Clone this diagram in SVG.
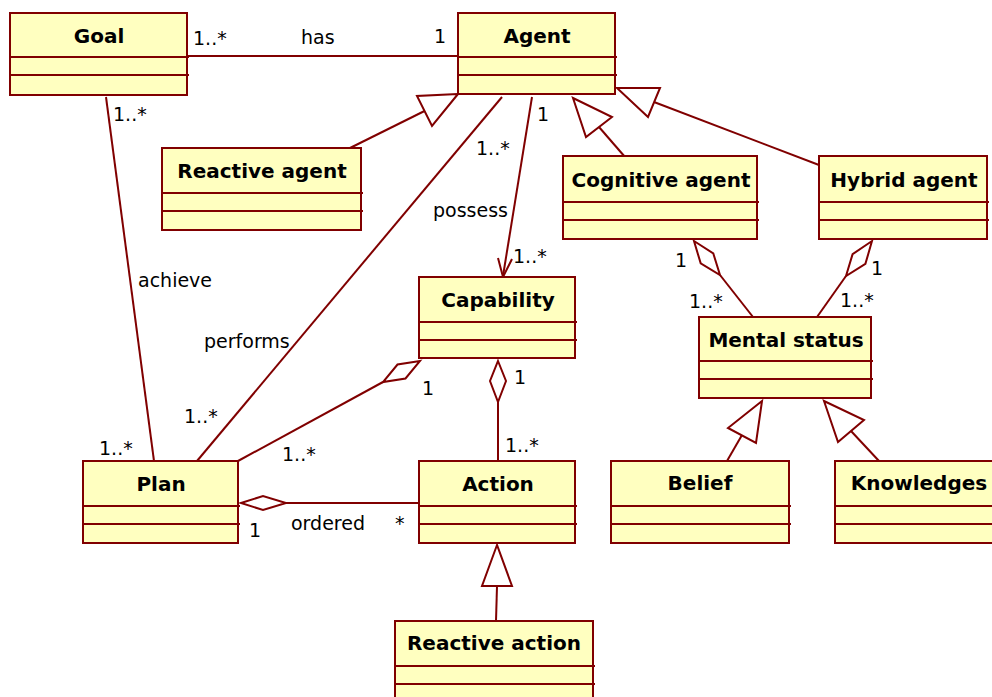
<svg xmlns="http://www.w3.org/2000/svg" width="992" height="697" viewBox="0 0 992 697">
<style>
.box{fill:#FFFFC0;stroke:#800000;stroke-width:2}
.sep{stroke:#800000;stroke-width:2;fill:none}
.ln{stroke:#800000;stroke-width:2;fill:none}
.tri{fill:#FFFFFF;stroke:#800000;stroke-width:2;stroke-linejoin:miter}
.hd{font-family:"DejaVu Sans","Liberation Sans",sans-serif;font-weight:bold;font-size:20px;text-anchor:middle;fill:#000}
.lb{font-family:"DejaVu Sans","Liberation Sans",sans-serif;font-size:19px;fill:#000}
</style>
<rect x="0" y="0" width="992" height="697" fill="#FFFFFF"/>

<g id="connectors">
  <!-- Goal - Agent : has -->
  <line class="ln" x1="188" y1="56" x2="458" y2="56"/>
  <!-- Goal - Plan : achieve -->
  <line class="ln" x1="106" y1="97" x2="154" y2="461"/>
  <!-- Agent - Plan : performs -->
  <line class="ln" x1="502" y1="97" x2="197" y2="461"/>
  <!-- Agent -> Capability : possess -->
  <line class="ln" x1="532" y1="97" x2="503" y2="276"/>
  <polyline class="ln" points="498,258 503,277 512,259"/>
  <!-- Reactive agent -> Agent -->
  <line class="ln" x1="350" y1="148" x2="424.5" y2="111"/>
  <polygon class="tri" points="458,94 417,96 432,126"/>
  <!-- Cognitive agent -> Agent -->
  <line class="ln" x1="625" y1="157" x2="599" y2="127"/>
  <polygon class="tri" points="573,98 612,117 586,137"/>
  <!-- Hybrid agent -> Agent -->
  <line class="ln" x1="819" y1="165" x2="654" y2="102"/>
  <polygon class="tri" points="617,88 660,88 648,117"/>
  <!-- Capability <>- Plan -->
  <line class="ln" x1="383" y1="382" x2="238" y2="461"/>
  <polygon class="tri" points="420,361 397.5,364.5 383,382 405.5,378.5"/>
  <!-- Capability <>- Action -->
  <line class="ln" x1="498" y1="402" x2="498" y2="461"/>
  <polygon class="tri" points="498,361 506,381 498,402 490,381"/>
  <!-- Plan <>- Action : ordered -->
  <line class="ln" x1="286" y1="503" x2="419" y2="503"/>
  <polygon class="tri" points="241,503 263,496 286,503 263,510"/>
  <!-- Cognitive agent <>- Mental status -->
  <line class="ln" x1="720" y1="275" x2="753" y2="317"/>
  <polygon class="tri" points="694,241 713.3,253.5 720,275 700.7,263.4"/>
  <!-- Hybrid agent <>- Mental status -->
  <line class="ln" x1="846" y1="276" x2="817" y2="317"/>
  <polygon class="tri" points="872,241 865.4,263.9 846,276 852.6,254.1"/>
  <!-- Belief -> Mental status -->
  <line class="ln" x1="727" y1="461" x2="742" y2="435"/>
  <polygon class="tri" points="762,401 728,428 756,443"/>
  <!-- Knowledges -> Mental status -->
  <line class="ln" x1="879" y1="461" x2="851" y2="431"/>
  <polygon class="tri" points="824,401 864,420 838,442"/>
  <!-- Reactive action -> Action -->
  <line class="ln" x1="496" y1="621" x2="497" y2="586"/>
  <polygon class="tri" points="497,545 482,586 512,586"/>

  <!-- labels -->
  <text class="lb" x="193" y="45">1..*</text>
  <text class="lb" x="301" y="44">has</text>
  <text class="lb" x="434" y="43">1</text>
  <text class="lb" x="113" y="121">1..*</text>
  <text class="lb" x="138" y="287">achieve</text>
  <text class="lb" x="99" y="455">1..*</text>
  <text class="lb" x="204" y="348">performs</text>
  <text class="lb" x="184" y="423">1..*</text>
  <text class="lb" x="476" y="155">1..*</text>
  <text class="lb" x="537" y="121">1</text>
  <text class="lb" x="433" y="217">possess</text>
  <text class="lb" x="513" y="263">1..*</text>
  <text class="lb" x="422" y="395">1</text>
  <text class="lb" x="282" y="461">1..*</text>
  <text class="lb" x="514" y="384">1</text>
  <text class="lb" x="505" y="452">1..*</text>
  <text class="lb" x="249" y="537">1</text>
  <text class="lb" x="291" y="530">ordered</text>
  <text class="lb" x="395" y="530">*</text>
  <text class="lb" x="675" y="267">1</text>
  <text class="lb" x="689" y="308">1..*</text>
  <text class="lb" x="871" y="275">1</text>
  <text class="lb" x="840" y="307">1..*</text>
</g>

<g id="goal">
  <rect class="box" x="10" y="13" width="177" height="82"/>
  <line class="sep" x1="10" y1="57" x2="189" y2="57"/>
  <line class="sep" x1="10" y1="75" x2="189" y2="75"/>
  <text class="hd" x="99" y="43">Goal</text>
</g>
<g id="agent">
  <rect class="box" x="458" y="13" width="157" height="81"/>
  <line class="sep" x1="458" y1="57" x2="617" y2="57"/>
  <line class="sep" x1="458" y1="75" x2="617" y2="75"/>
  <text class="hd" x="537" y="43">Agent</text>
</g>
<g id="reactive-agent">
  <rect class="box" x="162" y="148" width="199" height="82"/>
  <line class="sep" x1="162" y1="193" x2="363" y2="193"/>
  <line class="sep" x1="162" y1="211" x2="363" y2="211"/>
  <text class="hd" x="262" y="178">Reactive agent</text>
</g>
<g id="cognitive-agent">
  <rect class="box" x="563" y="156" width="194" height="83"/>
  <line class="sep" x1="563" y1="202" x2="759" y2="202"/>
  <line class="sep" x1="563" y1="220" x2="759" y2="220"/>
  <text class="hd" x="661" y="187">Cognitive agent</text>
</g>
<g id="hybrid-agent">
  <rect class="box" x="819" y="156" width="168" height="83"/>
  <line class="sep" x1="819" y1="202" x2="989" y2="202"/>
  <line class="sep" x1="819" y1="220" x2="989" y2="220"/>
  <text class="hd" x="904" y="187">Hybrid agent</text>
</g>
<g id="capability">
  <rect class="box" x="419" y="277" width="156" height="81"/>
  <line class="sep" x1="419" y1="322" x2="577" y2="322"/>
  <line class="sep" x1="419" y1="340" x2="577" y2="340"/>
  <text class="hd" x="498" y="307">Capability</text>
</g>
<g id="mental-status">
  <rect class="box" x="699" y="317" width="172" height="81"/>
  <line class="sep" x1="699" y1="361" x2="873" y2="361"/>
  <line class="sep" x1="699" y1="379" x2="873" y2="379"/>
  <text class="hd" x="786" y="347">Mental status</text>
</g>
<g id="plan">
  <rect class="box" x="83" y="461" width="155" height="82"/>
  <line class="sep" x1="83" y1="506" x2="240" y2="506"/>
  <line class="sep" x1="83" y1="524" x2="240" y2="524"/>
  <text class="hd" x="161" y="491">Plan</text>
</g>
<g id="action">
  <rect class="box" x="419" y="461" width="156" height="82"/>
  <line class="sep" x1="419" y1="506" x2="577" y2="506"/>
  <line class="sep" x1="419" y1="524" x2="577" y2="524"/>
  <text class="hd" x="498" y="491">Action</text>
</g>
<g id="belief">
  <rect class="box" x="611" y="461" width="178" height="82"/>
  <line class="sep" x1="611" y1="506" x2="791" y2="506"/>
  <line class="sep" x1="611" y1="524" x2="791" y2="524"/>
  <text class="hd" x="700" y="490">Belief</text>
</g>
<g id="knowledges">
  <rect class="box" x="835" y="461" width="170" height="82"/>
  <line class="sep" x1="835" y1="506" x2="1005" y2="506"/>
  <line class="sep" x1="835" y1="524" x2="1005" y2="524"/>
  <text class="hd" x="919" y="490">Knowledges</text>
</g>
<g id="reactive-action">
  <rect class="box" x="395" y="621" width="198" height="90"/>
  <line class="sep" x1="395" y1="666" x2="595" y2="666"/>
  <line class="sep" x1="395" y1="684" x2="595" y2="684"/>
  <text class="hd" x="494" y="650">Reactive action</text>
</g>
</svg>
